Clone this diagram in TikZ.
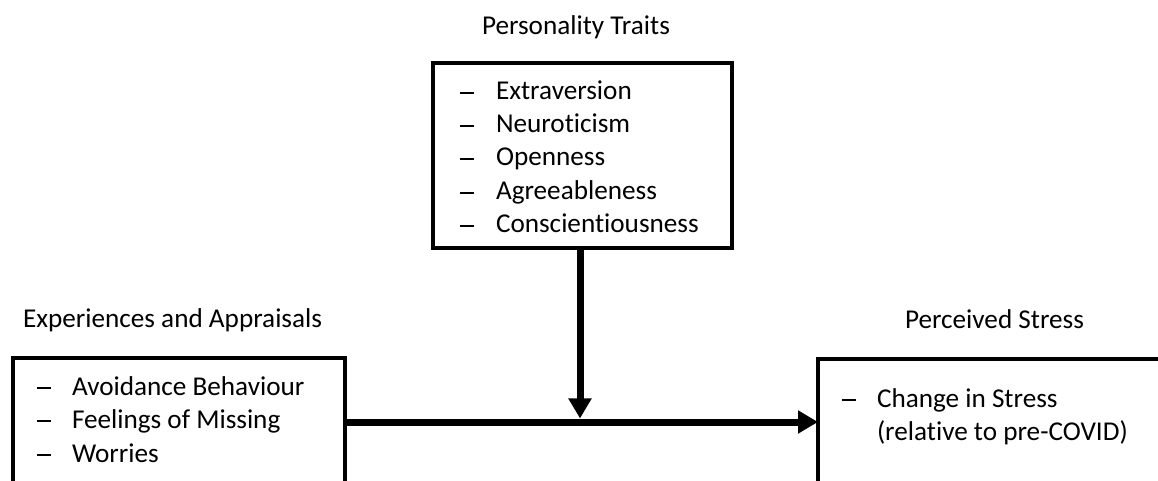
\documentclass[tikz,border=0pt]{standalone}
\usepackage{fontspec}
\setmainfont{Carlito}[Ligatures={NoCommon}]
\usetikzlibrary{arrows.meta}
\newcommand{\itemdash}{\rule[6.2pt]{14pt}{1.7pt}}
\begin{document}
\begin{tikzpicture}[x=1bp,y=-1bp,
  box/.style={draw,line width=3.5bp,inner sep=0pt,outer sep=0pt,anchor=north west},
  txt/.style={anchor=base west,inner sep=0pt,outer sep=0pt,font=\fontsize{27.3}{33}\selectfont},
  conn/.style={line width=7bp,-{Triangle[width=22bp,length=20bp]}}]
\useasboundingbox (0,0) rectangle (1158,481);
\clip (0,0) rectangle (1158,481);
% boxes
\node[box,minimum width=299bp,minimum height=185bp] (tbox) at (433,63) {};
\node[box,minimum width=332bp,minimum height=200bp] (lbox) at (13,358) {};
\node[box,minimum width=400bp,minimum height=200bp] (rbox) at (818,359) {};
% titles
\node[txt] (ttitle) at (482,35) {Personality Traits};
\node[txt] (ltitle) at (23,328) {Experiences and Appraisals};
\node[txt] (rtitle) at (905,329) {Perceived Stress};
% top box items
\node[txt] (td1) at (460,100) {\itemdash};
\node[txt] (t1) at (496,100) {Extraversion};
\node[txt] (td2) at (460,133) {\itemdash};
\node[txt] (t2) at (496,133) {Neuroticism};
\node[txt] (td3) at (460,166) {\itemdash};
\node[txt] (t3) at (496,166) {Openness};
\node[txt] (td4) at (460,200) {\itemdash};
\node[txt] (t4) at (496,200) {Agreeableness};
\node[txt] (td5) at (460,233) {\itemdash};
\node[txt] (t5) at (496,233) {Conscientiousness};
% left box items
\node[txt] (ld1) at (37,395) {\itemdash};
\node[txt] (l1) at (72,395) {Avoidance Behaviour};
\node[txt] (ld2) at (37,428) {\itemdash};
\node[txt] (l2) at (72,428) {Feelings of Missing};
\node[txt] (ld3) at (37,462) {\itemdash};
\node[txt] (l3) at (72,462) {Worries};
% right box items
\node[txt] (rd1) at (842,407) {\itemdash};
\node[txt] (r1) at (877,407) {Change in Stress};
\node[txt] (r2) at (877,440) {(relative to pre-COVID)};
% connectors
\coordinate (j) at (580,422);
\draw[conn] (lbox.east |- j) -- (rbox.west |- j);
\draw[conn,shorten >=3.5bp] (j |- tbox.south) -- (j);
\end{tikzpicture}
\end{document}
